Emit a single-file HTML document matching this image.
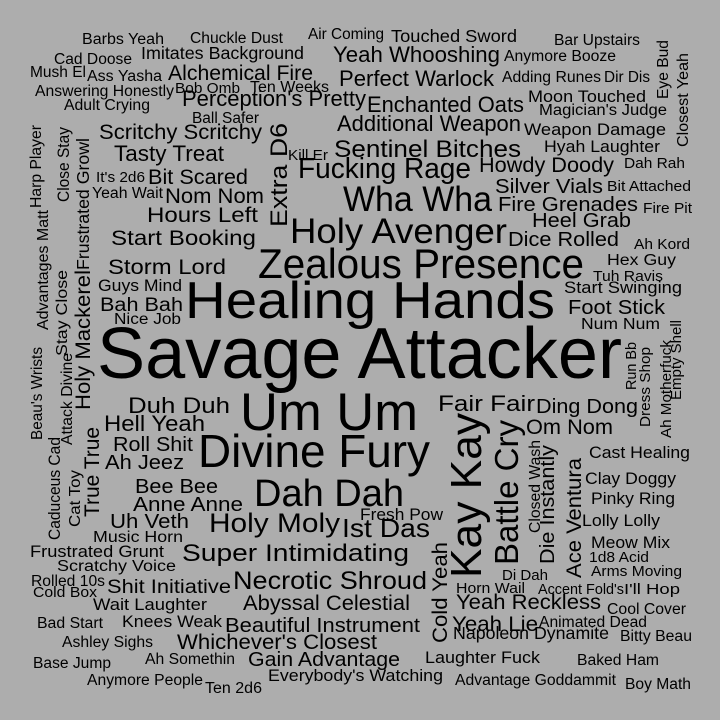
<!DOCTYPE html>
<html><head><meta charset="utf-8"><style>
html,body{margin:0;padding:0;background:#adadad;}
svg{display:block;}
text{font-family:"Liberation Sans",Arial,sans-serif;fill:#000;}
</style></head><body>
<svg id="cloud" width="720" height="720" viewBox="0 0 720 720">
<rect width="720" height="720" fill="#adadad"/>
</svg>
<script>
// word list and frequency-driven font sizes
const words = ["Savage Attacker","Healing Hands","Zealous Presence","Holy Avenger","Wha Wha","Fucking Rage","Sentinel Bitches","Additional Weapon","Enchanted Oats","Perception's Pretty","Perfect Warlock","Yeah Whooshing","Touched Sword","Air Coming","Chuckle Dust","Barbs Yeah","Imitates Background","Cad Doose","Mush El","Ass Yasha","Alchemical Fire","Answering Honestly","Bob Omb","Ten Weeks","Adult Crying","Ball Safer","Scritchy Scritchy","Tasty Treat","Kill Er","It's 2d6","Bit Scared","Yeah Wait","Nom Nom","Hours Left","Start Booking","Storm Lord","Guys Mind","Bah Bah","Nice Job","Bar Upstairs","Anymore Booze","Adding Runes","Dir Dis","Moon Touched","Magician's Judge","Weapon Damage","Hyah Laughter","Dah Rah","Howdy Doody","Silver Vials","Bit Attached","Fire Grenades","Fire Pit","Heel Grab","Dice Rolled","Ah Kord","Hex Guy","Tuh Ravis","Start Swinging","Foot Stick","Num Num","Duh Duh","Hell Yeah","Roll Shit","Ah Jeez","Bee Bee","Anne Anne","Uh Veth","Music Horn","Frustrated Grunt","Scratchy Voice","Rolled 10s","Cold Box","Shit Initiative","Wait Laughter","Bad Start","Knees Weak","Ashley Sighs","Base Jump","Ah Somethin","Anymore People","Ten 2d6","Um Um","Divine Fury","Dah Dah","Holy Moly","Ist Das","Fresh Pow","Super Intimidating","Necrotic Shroud","Abyssal Celestial","Beautiful Instrument","Whichever's Closest","Gain Advantage","Everybody's Watching","Fair Fair","Ding Dong","Om Nom","Cast Healing","Clay Doggy","Pinky Ring","Lolly Lolly","Meow Mix","1d8 Acid","Arms Moving","Di Dah","Horn Wail","Accent Fold's","I'll Hop","Yeah Reckless","Cool Cover","Yeah Lie","Animated Dead","Napoleon Dynamite","Bitty Beau","Laughter Fuck","Baked Ham","Advantage Goddammit","Boy Math",
"Eye Bud","Closest Yeah","Run Bb","Dress Shop","Ah Motherfuck","Empty Shell","Extra D6","Kay Kay","Battle Cry","Closed Wash","Die Instantly","Ace Ventura","Cold Yeah","Harp Player","Close Stay","Frustrated Growl","Advantages Matt","Stay Close","Holy Mackerel","Beau's Wrists","Attack Divine","True True","Caduceus Cad","Cat Toy"];
const sizes = [72,52,42,35,35,28.5,24,22,22,22,22,22,17.5,15.5,15.5,15.5,17.5,15.5,15.5,15.5,21,15.5,14.5,15.5,15.5,15.5,21,22,14.5,14.5,21,15.5,21,21,21,21,16.5,19,15.5,15.5,15.5,15.5,15.5,16.5,15.5,16.5,16.5,14.5,21,20,14.5,20,14.5,20,20,14.5,15.5,14.5,16.5,20,15.5,22,22,20,20,20,20,20,15.5,16.5,15.5,15.5,14.5,19,16.5,15.5,16.5,15.5,15.5,15.5,15.5,15.5,53,46,38,27,26,16.5,24,25,21,20,21,20,16.5,22,20,21,16.5,16.5,16.5,16.5,16.5,14.5,14.5,14.5,14.5,14.5,14.5,21,15.5,21,15.5,17.5,15.5,16.5,15.5,15.5,15.5,
15.5,15.5,14.5,14.5,14.5,14.5,24,44,33,15.5,20,21,21,15.5,16.5,17.5,15.5,15.5,21,15.5,15.5,21,16.5,15.5];
// layout: [x, y, length, rotated]
const layout = [[97,378,525,0],[185,318,370,0],[258,278,326,0],[290,243,217,0],[343,211,149,0],[298,178,173,0],[334,157,187,0],[337,131,184,0],[367,112,157,0],[182,106,184,0],[339,86,155,0],[333,62,167,0],[391,42,126,0],[308,39,76,0],[190,43,93,0],[82,44,82,0],[141,59,163,0],[54,64,78,0],[30,77,56,0],[87,81,75,0],[168,80,145,0],[35,96,139,0],[175,93,65,0],[250,92,79,0],[64,110,86,0],[192,123,67,0],[99,139,163,0],[114,161,110,0],[288,160,40,0],[96,182,49,0],[148,184,100,0],[92,198,71,0],[165,203,99,0],[147,222,111,0],[111,245,145,0],[108,274,118,0],[98,291,84,0],[100,311,83,0],[114,324,67,0],[554,45,86,0],[504,61,112,0],[502,82,99,0],[604,82,46,0],[528,102,118,0],[539,115,128,0],[524,135,142,0],[544,152,116,0],[624,168,61,0],[479,172,135,0],[495,193,108,0],[607,191,84,0],[498,211,140,0],[643,213,49,0],[532,227,99,0],[508,246,111,0],[634,249,56,0],[607,265,69,0],[593,281,70,0],[564,293,118,0],[568,314,97,0],[581,329,79,0],[128,413,102,0],[104,431,101,0],[113,451,80,0],[105,469,79,0],[135,493,83,0],[133,511,110,0],[110,528,79,0],[93,542,90,0],[30,557,134,0],[57,571,119,0],[31,586,74,0],[33,597,64,0],[107,593,124,0],[93,610,114,0],[37,628,66,0],[122,627,100,0],[62,647,91,0],[33,668,78,0],[145,664,90,0],[87,685,116,0],[205,693,57,0],[240,430,178,0],[198,467,232,0],[254,506,150,0],[209,532,131,0],[342,537,88,0],[360,520,83,0],[182,561,227,0],[233,589,194,0],[243,610,167,0],[225,632,195,0],[177,649,200,0],[248,666,152,0],[268,681,175,0],[438,411,97,0],[536,413,102,0],[526,434,87,0],[589,458,101,0],[585,484,91,0],[591,504,84,0],[582,526,78,0],[591,548,79,0],[589,562,60,0],[591,576,91,0],[502,580,46,0],[456,593,69,0],[538,594,86,0],[624,594,56,0],[456,609,145,0],[607,614,79,0],[452,631,86,0],[539,627,108,0],[453,639,156,0],[620,641,72,0],[425,663,115,0],[577,665,82,0],[455,685,161,0],[625,689,66,0],
[668,99,59,1],[688,147,94,1],[636,390,48,1],[650,427,80,1],[671,438,98,1],[681,400,80,1],[287,227,104,1],[481,578,165,1],[518,565,145,1],[540,533,93,1],[554,564,119,1],[581,578,120,1],[447,643,101,1],[41,208,83,1],[69,202,75,1],[89,270,132,1],[48,330,120,1],[67,356,86,1],[90,410,140,1],[42,440,93,1],[72,445,92,1],[99,517,90,1],[60,540,103,1],[80,527,57,1]];
const svg = document.getElementById('cloud');
const NS = 'http://www.w3.org/2000/svg';
for (let i = 0; i < words.length; i++) {
  const t = document.createElementNS(NS, 'text');
  const p = layout[i];
  t.textContent = words[i];
  t.setAttribute('font-size', sizes[i]);
  t.setAttribute('textLength', p[2]);
  t.setAttribute('lengthAdjust', 'spacingAndGlyphs');
  if (p[3]) {
    t.setAttribute('transform', 'translate(' + p[0] + ',' + p[1] + ') rotate(-90)');
  } else {
    t.setAttribute('x', p[0]);
    t.setAttribute('y', p[1]);
  }
  
  
  svg.appendChild(t);
}
</script>
</body></html>
